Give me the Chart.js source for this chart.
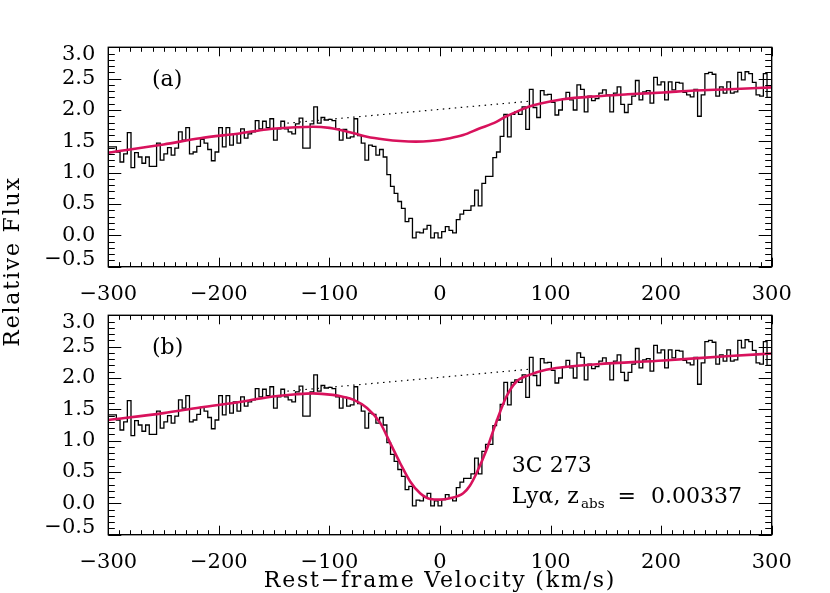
<!DOCTYPE html>
<html>
<head>
  <script src="https://cdn.jsdelivr.net/npm/chart.js@4.4.1/dist/chart.umd.min.js"></script>
<style>
  html, body { margin: 0; padding: 0; background: #fff; overflow: hidden; }
  body { width: 830px; height: 593px; position: relative; }
  canvas { position: absolute; left: 0; }
  #chartA { top: 0; }
  #chartB { top: 268px; }
</style>
</head>
<body>
  <canvas id="chartA" width="830" height="360"></canvas>
  <canvas id="chartB" width="830" height="345"></canvas>
  <script>
    // observed spectrum, one value per pixel bin (left edge of first bin, bin width in km/s)
    var velStart = -296.0;
    var binWidth = 3.306;
    var flux = [
      1.41, 1.33, 1.17, 1.30, 1.64, 1.08, 1.32, 1.25, 1.15, 1.25,
      1.10, 1.10, 1.47, 1.20, 1.30, 1.40, 1.28, 1.39, 1.65, 1.52,
      1.72, 1.30, 1.33, 1.42, 1.53, 1.47, 1.37, 1.19, 1.33, 1.72,
      1.41, 1.72, 1.44, 1.62, 1.47, 1.70, 1.55, 1.62, 1.65, 1.83,
      1.70, 1.82, 1.72, 1.86, 1.52, 1.70, 1.82, 1.70, 1.65, 1.62,
      1.78, 1.87, 1.39, 1.39, 1.78, 2.05, 1.79, 1.88, 1.84, 1.85,
      1.83, 1.70, 1.52, 1.69, 1.55, 1.57, 1.86, 1.59, 1.47, 1.20,
      1.44, 1.42, 1.28, 1.37, 1.25, 0.97, 0.78, 0.67, 0.54, 0.43,
      0.22, 0.27, -0.04, 0.05, 0.04, 0.10, 0.16, -0.04, 0.04,
      -0.04, 0.06, 0.14, 0.08, 0.04, 0.25, 0.34, 0.40, 0.40, 0.47,
      0.72, 0.47, 0.83, 0.94, 0.94, 1.24, 1.33, 1.58, 1.93, 1.57,
      1.93, 1.97, 1.93, 2.05, 1.69, 2.33, 2.04, 1.88, 2.31, 2.24,
      2.25, 2.12, 1.92, 2.00, 2.17, 2.28, 2.16, 2.00, 2.40, 2.33,
      1.97, 2.22, 2.15, 2.18, 2.27, 2.32, 2.24, 1.97, 2.27, 2.37,
      2.09, 1.96, 2.09, 2.22, 2.47, 2.16, 2.29, 2.31, 2.11,
      2.52, 2.40, 2.45, 2.16, 2.45, 2.32, 2.44, 2.43, 2.28, 2.24,
      2.21, 2.33, 1.90, 2.24, 2.58, 2.60, 2.57, 2.22, 2.37, 2.27,
      2.45, 2.27, 2.29, 2.60, 2.48, 2.61, 2.58, 2.44, 2.24, 2.22,
      2.58, 2.20
    ];

    // model (a): weak line
    var fitVelA = [-300, -250, -217, -180, -157, -130, -115, -100, -90, -78, -66, -50, -36, -22, -9,
                   9, 21, 35, 51, 60, 69, 80, 90, 111, 142, 170, 202, 230, 262, 300];
    var fitA = [1.32, 1.45, 1.55, 1.63, 1.69, 1.725, 1.733, 1.715, 1.68, 1.63, 1.574, 1.53, 1.505, 1.495, 1.505,
                1.55, 1.60, 1.70, 1.81, 1.90, 1.97, 2.05, 2.10, 2.17, 2.22, 2.25, 2.28, 2.31, 2.33, 2.36];

    // model (b): best fit
    var fitVelB = [-300, -250, -217, -180, -157, -130, -115, -97, -88, -78, -66, -54, -45, -36, -27, -18, -9, 0,
                   9, 21, 27, 33, 42, 51, 60, 69, 81, 96, 111, 142, 202, 262, 300];
    var fitB = [1.33, 1.44, 1.53, 1.62, 1.69, 1.74, 1.755, 1.73, 1.70, 1.65, 1.52, 1.28, 0.96, 0.64, 0.35, 0.16, 0.07, 0.06,
                0.08, 0.16, 0.28, 0.48, 0.85, 1.30, 1.70, 1.94, 2.05, 2.13, 2.17, 2.22, 2.28, 2.35, 2.39];

    // continuum across the line (dotted)
    var contVel = [-138, 81];
    var contFlux = [1.79, 2.14];

    var xTicks = [-300, -200, -100, 0, 100, 200, 300];
    var yTicks = [-0.5, 0.0, 0.5, 1.0, 1.5, 2.0, 2.5, 3.0];
    var yTickLabels = ['\u22120.5', '0.0', '0.5', '1.0', '1.5', '2.0', '2.5', '3.0'];

    var fitColor = '#d8125c';
    var serif = '"DejaVu Serif", serif';

    function xy(xs, ys) {
      return xs.map(function (v, i) { return {x: v, y: ys[i]}; });
    }

    var histData = flux.map(function (f, i) { return {x: velStart + (i + 0.5) * binWidth, y: f}; });
    histData.unshift({x: -300, y: flux[0]});
    histData.push({x: 300, y: flux[flux.length - 1]});

    var panelDeco = {
      id: 'panelDeco',
      afterDatasetsDraw: function (chart, args, o) {
        var ctx = chart.ctx, a = chart.chartArea, x = chart.scales.x, y = chart.scales.y;
        ctx.save();
        ctx.strokeStyle = '#000';
        ctx.lineWidth = 1;
        ctx.beginPath();
        for (var v = -300; v <= 300; v += 10) {
          var px = Math.round(x.getPixelForValue(v)) + 0.5;
          var len = v % 100 === 0 ? 9 : 4.5;
          ctx.moveTo(px, a.bottom); ctx.lineTo(px, a.bottom - len);
          ctx.moveTo(px, a.top); ctx.lineTo(px, a.top + len);
        }
        for (var i = -5; i <= 30; i++) {
          var py = Math.round(y.getPixelForValue(i / 10)) + 0.5;
          var ylen = i % 5 === 0 ? 13 : 6.5;
          ctx.moveTo(a.left, py); ctx.lineTo(a.left + ylen, py);
          ctx.moveTo(a.right, py); ctx.lineTo(a.right - ylen, py);
        }
        ctx.stroke();
        ctx.lineWidth = 1.4;
        ctx.strokeRect(a.left, a.top, a.right - a.left, a.bottom - a.top);

        ctx.fillStyle = '#000';
        ctx.font = '22px ' + serif;
        ctx.textAlign = 'left';
        ctx.textBaseline = 'middle';
        ctx.fillText(o.label, x.getPixelForValue(-260.5), y.getPixelForValue(2.48));

        if (o.notes) {
          ctx.textBaseline = 'alphabetic';
          var x0 = x.getPixelForValue(65);
          var yb1 = y.getPixelForValue(0.505), yb2 = y.getPixelForValue(0.011);
          ctx.fillText('3C 273', x0, yb1);
          ctx.fillText('Ly\u03b1, z', x0, yb2);
          var cx = x0 + ctx.measureText('Ly\u03b1, z').width + 2;
          ctx.font = '13.5px ' + serif;
          ctx.fillText('abs', cx, yb2 + 5);
          cx += ctx.measureText('abs').width + 13;
          ctx.font = '22px ' + serif;
          ctx.fillText('=', cx, yb2);
          cx += ctx.measureText('=').width + 15;
          ctx.fillText('0.00337', cx, yb2);
        }

        ctx.letterSpacing = '1.8px';
        ctx.font = '22px ' + serif;
        if (o.xTitle) {
          ctx.textAlign = 'center';
          ctx.textBaseline = 'alphabetic';
          ctx.fillText('Rest\u2212frame Velocity (km/s)', (a.left + a.right) / 2, 319);
        }
        if (o.yTitle) {
          ctx.translate(13.5, 261.5);
          ctx.rotate(-Math.PI / 2);
          ctx.textAlign = 'center';
          ctx.textBaseline = 'middle';
          ctx.fillText('Relative Flux', 0, 0);
        }
        ctx.restore();
      }
    };

    function makePanel(id, fitVel, fitFlux, deco) {
      var canvas = document.getElementById(id);
      var H = canvas.height;
      return new Chart(canvas, {
        type: 'line',
        data: {
          datasets: [
            {data: xy(fitVel, fitFlux), borderColor: fitColor, borderWidth: 2.6,
             cubicInterpolationMode: 'monotone', pointRadius: 0},
            {data: xy(contVel, contFlux), borderColor: '#000', borderWidth: 1.2,
             borderDash: [1.5, 4.5], pointRadius: 0},
            {data: histData, borderColor: '#000', borderWidth: 1.3, stepped: 'middle', pointRadius: 0}
          ]
        },
        options: {
          responsive: false,
          animation: false,
          layout: {padding: {left: 0, right: 58.3, top: 47.3, bottom: 0}},
          plugins: {legend: {display: false}, tooltip: {enabled: false}, panelDeco: deco},
          scales: {
            x: {
              type: 'linear', min: -300, max: 300,
              grid: {display: false}, border: {display: false},
              afterBuildTicks: function (s) { s.ticks = xTicks.map(function (v) { return {value: v}; }); },
              ticks: {
                padding: 7.7, color: '#000', maxRotation: 0, autoSkip: false,
                font: {family: serif, size: 21},
                callback: function (v) { return String(v).replace('-', '\u2212'); }
              },
              afterFit: function (s) { s.height = H - 266.7; }
            },
            y: {
              min: -0.5, max: 3.0,
              grid: {display: false}, border: {display: false},
              afterBuildTicks: function (s) {
                // end labels sit a little inside the frame, as in the original
                s.ticks = yTicks.map(function (v) {
                  return {value: v === 3.0 ? 2.877 : (v === -0.5 ? -0.393 : v)};
                });
              },
              ticks: {
                padding: 5, color: '#000', autoSkip: false,
                font: {family: serif, size: 21},
                callback: function (v, i) { return yTickLabels[i]; }
              },
              afterFit: function (s) { s.width = 108.3; }
            }
          }
        },
        plugins: [panelDeco]
      });
    }

    makePanel('chartA', fitVelA, fitA, {label: '(a)', notes: false, xTitle: false, yTitle: true});
    makePanel('chartB', fitVelB, fitB, {label: '(b)', notes: true, xTitle: true, yTitle: false});
  </script>
</body>
</html>
